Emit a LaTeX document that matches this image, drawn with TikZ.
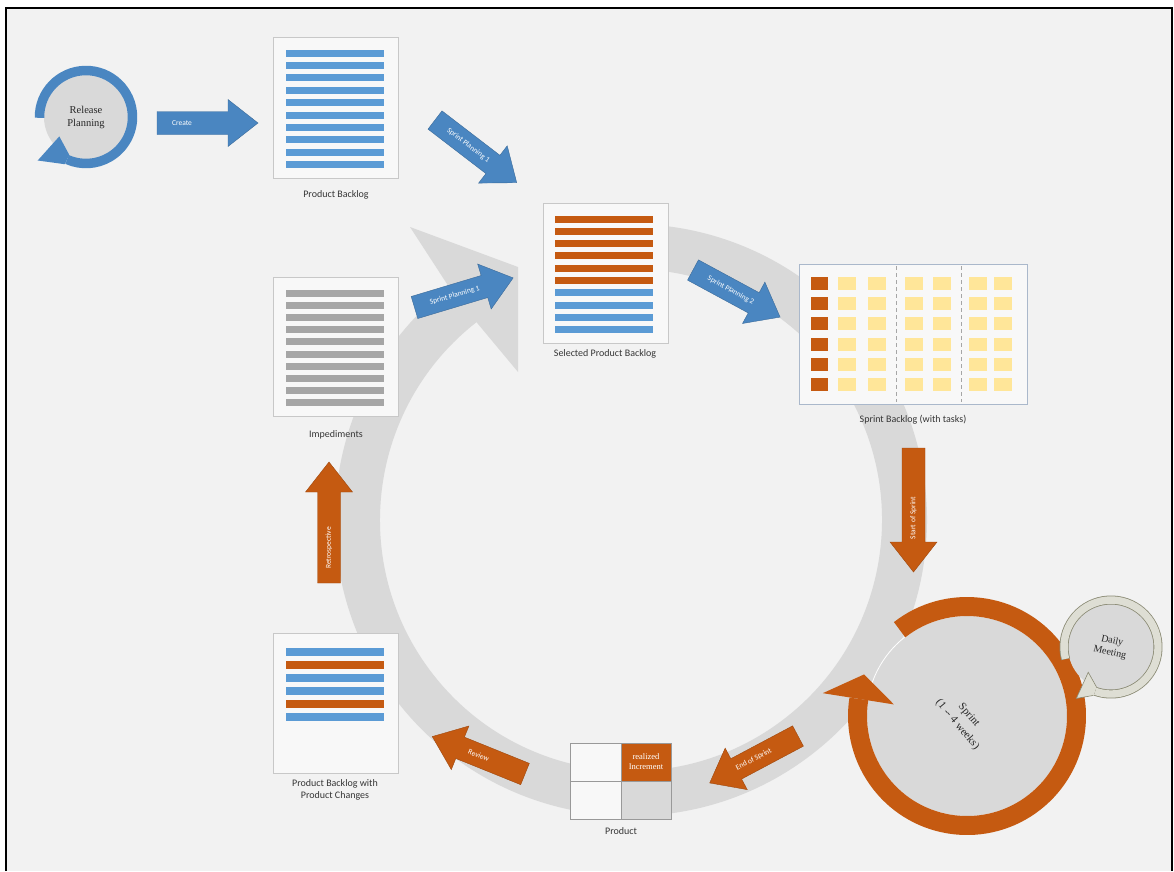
\documentclass[tikz,border=0pt]{standalone}
\usepackage{fontspec}
\setmainfont{Carlito}
\newfontfamily\timesface{Liberation Serif}
\usetikzlibrary{calc}

\definecolor{bgGrey}{HTML}{F2F2F2}
\definecolor{ringGrey}{HTML}{D9D9D9}
\definecolor{docFill}{HTML}{F8F8F8}
\definecolor{docLine}{HTML}{C8C8C8}
\definecolor{barBlue}{HTML}{5B9BD5}
\definecolor{arrowBlue}{HTML}{4A86C1}
\definecolor{scrumOrange}{HTML}{C55A11}
\definecolor{barGrey}{HTML}{A6A6A6}
\definecolor{taskYellow}{HTML}{FFE699}
\definecolor{labelText}{HTML}{363636}
\definecolor{dailyRing}{HTML}{DEDED4}
\definecolor{dailyLine}{HTML}{8A8A74}
\definecolor{taskLine}{HTML}{AAB8CB}

\tikzset{
  docbox/.style={draw=docLine, fill=docFill, line width=0.6pt},
  doclabel/.style={font=\fontsize{10}{12}\selectfont, text=labelText, align=center},
  arrowtext/.style={font=\fontsize{7.5}{9}\selectfont, text=white, inner sep=0pt},
  serifnote/.style={font=\timesface\fontsize{10.5}{13}\selectfont, text=black!85, align=center},
}

% block arrow: colour, tail, angle, length, text position, text options, text
\newcommand{\blockarrow}[7]{%
  \begin{scope}[shift={(#2)}, rotate=#3]
    \filldraw[fill=#1, draw=#1!80!black, line width=0.4pt]
      (0,-11.5) -- ({#4-30},-11.5) -- ({#4-30},-23.5) -- (#4,0)
      -- ({#4-30},23.5) -- ({#4-30},11.5) -- (0,11.5) -- cycle;
    \node[arrowtext, transform shape, #6] at (#5,0) {#7};
  \end{scope}}

\begin{document}
\begin{tikzpicture}[x=1pt, y=1pt]
    \useasboundingbox (0,0) rectangle (1174,-871);
    \fill[white] (0,0) rectangle (1174,-871);
    \fill[bgGrey] (6,-8) rectangle (1172,-871);
    \draw[black, line width=1.5pt] (6,-871) -- (6,-8) -- (1172,-8) -- (1172,-871);

    % big grey cycle
    \coordinate (cyc) at (631,-520);
    \draw[ringGrey, line width=45pt] (cyc) ++(127:273.5) arc[start angle=127, end angle=445, radius=273.5];
    \fill[ringGrey] (448.8,-286.7) -- (410,-227) -- (518,-267) -- (518,-372) -- (476.5,-322.2) -- cycle;

    % release planning
    \coordinate (rp) at (86,-117);
    \fill[ringGrey] (rp) circle (42);
    \draw[arrowBlue, line width=9.5pt] (rp) ++(181:46.5) arc[start angle=181, end angle=-114, radius=46.5];
    \fill[arrowBlue] ($(rp)+(246:41.3)$) -- ($(rp)+(216:33)$) -- ($(rp)+(222:65)$) -- ($(rp)+(246:51.7)$) -- cycle;
    \node[serifnote] (relplan) at (rp) {Release\\Planning};

    % product backlog
    \draw[docbox] (273,-37) rectangle (398,-178);
    \foreach \i in {0,...,9}
        \fill[barBlue] (286,{-53-12.4*\i+3.5}) rectangle (384,{-53-12.4*\i-3.5});
    \node[doclabel] (pblabel) at (336,-195) {Product Backlog};

    % selected product backlog
    \draw[docbox] (543,-203) rectangle (668,-343);
    \foreach \i in {0,...,9} {
        \ifnum\i<6 \def\barcol{scrumOrange}\else \def\barcol{barBlue}\fi
        \fill[\barcol] (555,{-219-12.3*\i+3.5}) rectangle (653,{-219-12.3*\i-3.5});
    }
    \node[doclabel] (spblabel) at (605,-354) {Selected Product Backlog};

    % impediments
    \draw[docbox] (273,-277) rectangle (398,-416);
    \foreach \i in {0,...,9}
        \fill[barGrey] (286,{-293-12.2*\i+3.5}) rectangle (384,{-293-12.2*\i-3.5});
    \node[doclabel] (implabel) at (336,-435) {Impediments};

    % sprint backlog with tasks
    \draw[draw=taskLine, fill=docFill, line width=0.6pt] (799,-264) rectangle (1027,-404);
    \foreach \r in {0,...,5} {
        \fill[scrumOrange] (811,{-277-20.2*\r}) rectangle (828,{-290-20.2*\r});
        \foreach \x in {838,868,905,933,969,994}
            \fill[taskYellow] (\x,{-277-20.2*\r}) rectangle ({\x+18},{-290-20.2*\r});
    }
    \draw[black!35, dash pattern=on 4pt off 3pt] (896,-266) -- (896,-402);
    \draw[black!35, dash pattern=on 4pt off 3pt] (961,-266) -- (961,-402);
    \node[doclabel] (sblabel) at (913,-420) {Sprint Backlog (with tasks)};

    % product backlog with product changes
    \draw[docbox] (273,-633) rectangle (398,-773);
    \foreach \i/\c in {0/barBlue,1/scrumOrange,2/barBlue,3/barBlue,4/scrumOrange,5/barBlue}
        \fill[\c] (286,{-652-13*\i+4}) rectangle (384,{-652-13*\i-4});
    \node[doclabel] (pbclabel) at (335,-790) {Product Backlog with\\Product Changes};

    % product
    \fill[docFill] (570,-743) rectangle (671,-819);
    \fill[scrumOrange] (621,-743) rectangle (671,-781);
    \fill[ringGrey] (621,-781) rectangle (671,-819);
    \draw[black!40, line width=0.6pt] (570,-743) rectangle (671,-819) (621,-743) -- (621,-819) (570,-781) -- (671,-781);
    \node[serifnote, text=white, font=\timesface\fontsize{8.5}{10}\selectfont] (incr) at (646,-762) {realized\\Increment};
    \node[doclabel] (prodlabel) at (621,-831) {Product};

    % block arrows
    \blockarrow{arrowBlue}{157,-123}{0}{101}{25}{name=create}{Create}
    \blockarrow{arrowBlue}{435,-120}{-37.5}{103}{42}{name=spone}{Sprint Planning 1}
    \blockarrow{arrowBlue}{414.5,-307.5}{16.7}{103}{42}{name=sponeb}{Sprint Planning 1}
    \blockarrow{arrowBlue}{693,-270}{-28.4}{99}{43}{name=sptwo}{Sprint Planning 2}
    \blockarrow{scrumOrange}{913.5,-448}{-90}{124}{70}{rotate=180, name=startsp}{Start of Sprint}
    \blockarrow{scrumOrange}{798,-736}{208}{100}{50}{rotate=180, name=endsp}{End of Sprint}
    \blockarrow{scrumOrange}{525,-774}{158}{100}{50}{rotate=180, name=review}{Review}
    \blockarrow{scrumOrange}{329,-583}{90}{121}{35}{name=retro}{Retrospective}

    % sprint
    \coordinate (sp) at (967,-716);
    \fill[ringGrey] (sp) circle (101);
    \draw[white, line width=0.8pt] (sp) circle (100.5);
    \draw[scrumOrange, line width=19pt] (sp) ++(128:109.5) arc[start angle=128, end angle=-189, radius=109.5];
    \fill[scrumOrange] ($(sp)+(171:74)$) -- ($(sp)+(171:146)$) -- ($(sp)+(158:111)$) -- cycle;
    \node[serifnote, rotate=-50, font=\timesface\fontsize{11}{15}\selectfont] (sprint) at (963,-720) {Sprint\\(1 -- 4 weeks)};

    % daily meeting
    \coordinate (dm) at (1111,-647);
    \fill[ringGrey] (dm) circle (43);
    \draw[dailyLine, line width=9pt] (dm) ++(195:47) arc[start angle=195, end angle=-110, radius=47];
    \draw[dailyRing, line width=7.4pt] (dm) ++(194.6:47) arc[start angle=194.6, end angle=-109.6, radius=47];
    \filldraw[fill=dailyRing, draw=dailyLine, line width=0.6pt] ($(dm)+(250:42.5)$) -- ($(dm)+(228:34)$) -- ($(dm)+(236:62)$) -- ($(dm)+(250:51.5)$);
    \node[serifnote, rotate=-12, font=\timesface\fontsize{10}{11.5}\selectfont] (daily) at (dm) {Daily\\Meeting};
\end{tikzpicture}
\end{document}
